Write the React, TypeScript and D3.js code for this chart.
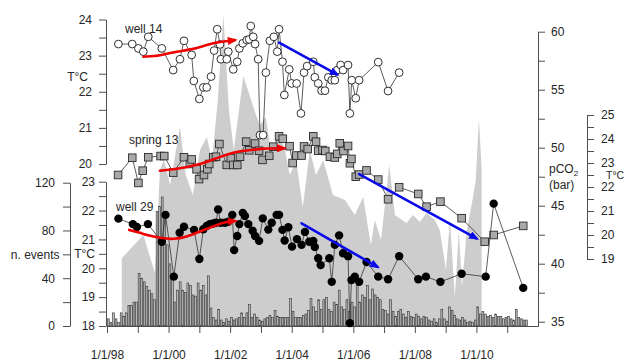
import React, { useRef, useEffect } from "react";
import * as d3 from "d3";

type Pt = [number, number]; // [decimal year, value]

// well 14 temperature (°C), upper left axis
const well14: Pt[] = [
  [1998.37, 23.32], [1998.82, 23.32], [1999.02, 23.2], [1999.18, 23.11], [1999.34, 23.52],
  [1999.78, 23.2], [2000.15, 22.6], [2000.37, 22.9], [2000.5, 23.41], [2000.75, 23.02],
  [2000.82, 22.3], [2001.0, 21.8], [2001.13, 22.12], [2001.24, 22.12], [2001.38, 22.42],
  [2001.48, 23.14], [2001.58, 23.73], [2001.67, 23.31], [2001.7, 22.9], [2001.89, 22.9],
  [2001.94, 23.11], [2002.1, 22.62], [2002.23, 22.83], [2002.3, 23.2], [2002.41, 23.34],
  [2002.54, 23.43], [2002.62, 23.45], [2002.67, 23.82], [2002.75, 23.52], [2002.81, 23.32],
  [2002.91, 22.9], [2002.97, 20.8], [2003.07, 20.8], [2003.16, 22.53], [2003.29, 23.41],
  [2003.42, 23.52], [2003.53, 23.11], [2003.59, 23.73], [2003.7, 22.83], [2003.76, 21.91],
  [2003.92, 22.62], [2004.0, 22.23], [2004.16, 22.23], [2004.3, 21.4], [2004.4, 22.53],
  [2004.5, 22.71], [2004.7, 22.83], [2004.75, 22.4], [2004.86, 22.23], [2004.97, 22.03],
  [2005.08, 22.03], [2005.19, 22.4], [2005.3, 22.32], [2005.4, 22.32], [2005.48, 22.6],
  [2005.59, 22.74], [2005.67, 22.6], [2005.83, 22.74], [2005.89, 21.4], [2005.95, 22.32],
  [2006.08, 21.82], [2006.19, 22.32], [2006.81, 22.82], [2007.13, 22.02], [2007.49, 22.53],
];

// spring 13 temperature (°C), right axis
const spring13: Pt[] = [
  [1998.36, 22.5], [1998.82, 23.22], [1999.02, 22.17], [1999.16, 22.68], [1999.34, 23.24],
  [1999.74, 23.29], [1999.86, 23.29], [2000.15, 22.6], [2000.5, 23.24], [2000.69, 22.96],
  [2000.75, 23.15], [2000.91, 22.74], [2000.99, 22.33], [2001.15, 22.5], [2001.26, 22.74],
  [2001.32, 22.96], [2001.45, 23.24], [2001.54, 23.26], [2001.65, 23.79], [2001.89, 22.92],
  [2002.02, 23.2], [2002.1, 22.92], [2002.23, 22.92], [2002.32, 23.26], [2002.52, 23.89],
  [2002.62, 23.53], [2002.81, 23.81], [2002.94, 23.51], [2003.05, 23.13], [2003.27, 23.3],
  [2003.4, 23.68], [2003.59, 24.11], [2003.71, 24.01], [2003.93, 23.7], [2004.03, 23.0],
  [2004.15, 23.31], [2004.32, 23.31], [2004.4, 23.69], [2004.52, 23.58], [2004.7, 24.11],
  [2004.79, 23.89], [2004.86, 23.51], [2005.0, 23.54], [2005.09, 23.5], [2005.24, 23.26],
  [2005.4, 23.23], [2005.48, 23.38], [2005.56, 23.82], [2005.68, 23.5], [2005.83, 23.71],
  [2005.89, 22.99], [2005.94, 23.17], [2006.08, 22.43], [2006.19, 22.52], [2006.43, 22.69],
  [2006.81, 22.31], [2007.13, 21.49], [2007.49, 21.99], [2008.11, 21.71], [2008.38, 21.18],
  [2008.83, 21.39], [2009.52, 20.7], [2010.27, 19.72], [2010.56, 20.0], [2011.52, 20.38],
];

// well 29 temperature (°C), lower left axis
const well29: Pt[] = [
  [1998.37, 21.72], [1998.84, 21.53], [1998.97, 21.43], [1999.33, 21.53], [1999.78, 20.92],
  [1999.9, 21.85], [2000.17, 19.71], [2000.36, 21.23], [2000.5, 21.44], [2000.83, 21.33],
  [2001.0, 20.32], [2001.13, 21.35], [2001.24, 21.47], [2001.34, 21.53], [2001.45, 21.55],
  [2001.54, 21.58], [2001.61, 22.04], [2001.69, 21.58], [2001.83, 21.58], [2001.94, 21.61],
  [2002.07, 21.85], [2002.13, 20.63], [2002.23, 21.12], [2002.3, 21.53], [2002.41, 21.92],
  [2002.48, 21.81], [2002.59, 21.53], [2002.73, 21.3], [2002.81, 21.12], [2002.94, 20.95],
  [2003.06, 21.73], [2003.24, 21.34], [2003.35, 21.58], [2003.51, 21.85], [2003.59, 21.85],
  [2003.7, 21.33], [2003.77, 20.96], [2003.89, 21.42], [2004.01, 20.75], [2004.17, 21.01],
  [2004.32, 20.81], [2004.43, 21.26], [2004.57, 20.92], [2004.7, 20.95], [2004.75, 20.74],
  [2004.86, 20.35], [2004.94, 20.11], [2005.22, 20.35], [2005.3, 19.53], [2005.4, 20.81],
  [2005.54, 21.14], [2005.67, 20.52], [2005.83, 20.42], [2005.89, 18.1], [2005.94, 19.59],
  [2006.05, 19.71], [2006.19, 19.53], [2006.43, 20.22], [2006.81, 19.71], [2007.13, 19.62],
  [2007.49, 20.42], [2008.11, 19.62], [2008.36, 19.71], [2008.83, 19.53], [2009.52, 19.81],
  [2010.3, 19.71], [2010.56, 22.24], [2011.52, 19.32],
];

// pCO2 (bar), grey area
const pco2: Pt[] = [
  [1998.48, 40.47], [1999.18, 42.47], [1999.56, 39.17], [1999.72, 48.08], [1999.85, 48.94],
  [2000.05, 46.78], [2000.37, 51.78], [2000.56, 47.65], [2000.79, 45.92], [2001.02, 49.8],
  [2001.24, 50.92], [2001.41, 48.94], [2001.6, 54.11], [2001.78, 61.44], [2001.96, 53.25],
  [2002.12, 49.8], [2002.43, 56.18], [2002.84, 52.82], [2002.97, 51.96], [2003.16, 52.65],
  [2003.36, 48.94], [2003.55, 51.53], [2003.78, 49.8], [2003.94, 47.65], [2004.14, 48.94],
  [2004.36, 44.89], [2004.59, 49.8], [2004.79, 47.65], [2005.02, 48.94], [2005.34, 45.92],
  [2005.73, 45.49], [2006.05, 44.2], [2006.32, 45.75], [2006.57, 41.61], [2006.7, 43.77],
  [2006.9, 42.04], [2007.17, 48.51], [2007.35, 44.2], [2007.73, 43.51], [2007.94, 44.2],
  [2008.16, 43.59], [2008.38, 44.37], [2008.65, 43.77], [2008.81, 42.91], [2009.01, 39.46],
  [2009.14, 43.77], [2009.3, 37.13], [2009.43, 42.91], [2009.53, 37.99], [2009.69, 42.91],
  [2009.89, 45.75], [2009.98, 47.22], [2010.08, 52.56], [2010.17, 48.08],
];

// monthly number of events, from January 1998
const nEvents: number[] = [
  6, 3, 11, 6, 3, 11, 8, 11, 17, 17, 20, 20, // 1998
  44, 40, 37, 33, 30, 27, 22, 96, 100, 108, 92, 68, // 1999
  52, 40, 20, 30, 37, 30, 28, 36, 34, 26, 25, 36, // 2000
  30, 34, 26, 42, 15, 7, 5, 14, 5, 3, 6, 4, // 2001
  7, 5, 6, 7, 11, 7, 11, 18, 7, 10, 7, 5, // 2002
  4, 6, 7, 9, 7, 13, 8, 7, 7, 7, 7, 23, // 2003
  12, 7, 7, 7, 9, 10, 13, 23, 16, 12, 22, 14, // 2004
  22, 24, 14, 12, 20, 18, 30, 16, 14, 22, 12, 20, // 2005
  16, 34, 20, 26, 24, 34, 22, 31, 26, 24, 22, 14, // 2006
  13, 10, 22, 12, 8, 12, 14, 10, 7, 12, 8, 7, // 2007
  10, 8, 6, 8, 7, 5, 4, 6, 3, 6, 14, 6, // 2008
  4, 16, 13, 9, 6, 5, 7, 5, 3, 4, 3, 5, // 2009
  16, 10, 12, 10, 8, 9, 7, 10, 8, 8, 6, 7, // 2010
  8, 6, 5, 14, 7, 6, 5, 5, // 2011
];

// trend arrows
const well14Up: Pt[] = [[1999.18, 22.97], [1999.76, 23.0], [2000.14, 23.1], [2000.8, 23.17], [2001.24, 23.3], [2001.67, 23.38], [2002.15, 23.43]];
const well14Down: Pt[] = [[2003.59, 23.36], [2005.47, 22.48]];
const spring13Up: Pt[] = [[1999.72, 22.68], [2000.15, 22.72], [2001.02, 22.92], [2001.67, 23.26], [2002.1, 23.45], [2002.75, 23.56], [2003.19, 23.61], [2003.75, 23.61]];
const spring13Down: Pt[] = [[2006.19, 22.54], [2010.0, 19.86]];
const well29Up: Pt[] = [[1998.72, 21.33], [1999.07, 21.23], [1999.4, 21.12], [1999.78, 21.04], [2000.15, 21.0], [2000.59, 21.09], [2001.02, 21.27], [2001.45, 21.46], [2001.83, 21.61], [2002.16, 21.64]];
const well29Down: Pt[] = [[2004.32, 21.56], [2006.78, 20.05]];

const xTickYears = d3.range(1998, 2012);
const xLabel = (y: number) => (y % 2 === 0 ? `1/1/${String(y).slice(2)}` : "");

const FONT = "'Liberation Sans', Arial, Helvetica, sans-serif";
const RED = "#f00000";
const BLUE = "#0a0ae8";

const App: React.FC = () => {
  const svgRef = useRef<SVGSVGElement | null>(null);

  useEffect(() => {
    if (!svgRef.current) return;
    const width = 627;
    const height = 362;
    const base = 326;

    const svg = d3.select(svgRef.current)
      .attr("width", width)
      .attr("height", height)
      .attr("viewBox", `0 0 ${width} ${height}`)
      .style("position", "absolute")
      .style("left", "0px")
      .style("top", "0px")
      .style("font-family", FONT);

    svg.selectAll("*").remove();

    const x = d3.scaleLinear().domain([1998, 2012]).range([107, 538]);
    const yTop = d3.scaleLinear().domain([20, 24]).range([164, 19.5]);
    const yMid = d3.scaleLinear().domain([18, 23]).range([base, 181.7]);
    const yEv = d3.scaleLinear().domain([0, 120]).range([base, 182.7]);
    const yP = d3.scaleLinear().domain([35, 60]).range([321.7, 31.7]);
    const yPAxis = yP.copy().domain([yP.invert(base), 60]).range([base, 31.7]);
    const yR = d3.scaleLinear().domain([19, 25]).range([259, 115]);

    const defs = svg.append("defs");
    [["red", RED], ["blue", BLUE]].forEach(([id, c]) => {
      defs.append("marker")
        .attr("id", `arrow-${id}`)
        .attr("viewBox", "0 0 10 8")
        .attr("refX", 7)
        .attr("refY", 4)
        .attr("markerWidth", 10)
        .attr("markerHeight", 8)
        .attr("markerUnits", "userSpaceOnUse")
        .attr("orient", "auto")
        .append("path")
        .attr("d", "M0,0L10,4L0,8Z")
        .attr("fill", c);
    });

    // grey pCO2 area
    svg.append("path")
      .datum(pco2)
      .attr("fill", "#cdcdcd")
      .attr("d", d3.area<Pt>()
        .x(d => x(d[0]))
        .y0(base)
        .y1(d => yP(d[1])));

    // monthly events histogram
    const step = x(1998 + 1 / 12) - x(1998);
    svg.append("g")
      .selectAll("rect")
      .data(nEvents)
      .join("rect")
      .attr("x", (_, i) => x(1998 + i / 12) + 0.4)
      .attr("y", d => yEv(d))
      .attr("width", step * 0.72)
      .attr("height", d => base - yEv(d))
      .attr("fill", "#b9b9b9")
      .attr("stroke", "#333")
      .attr("stroke-width", 0.6);

    const styleAxis = (g: d3.Selection<SVGGElement, unknown, null, undefined>) => {
      g.attr("font-size", 12).attr("font-family", FONT);
      g.selectAll("text").attr("fill", "#262626");
      g.selectAll("line,path").attr("stroke", "#4d4d4d");
    };
    const intFmt = (d: d3.NumberValue) => (Number.isInteger(+d) ? String(d) : "");

    svg.append("g")
      .attr("transform", "translate(106,0)")
      .call(d3.axisLeft(yTop).tickValues(d3.range(20, 24.01, 0.5)).tickFormat(intFmt).tickSize(7).tickPadding(7).tickSizeOuter(0))
      .call(styleAxis);

    svg.append("g")
      .attr("transform", "translate(106,0)")
      .call(d3.axisLeft(yMid).tickValues(d3.range(18, 23.01, 0.5)).tickFormat(intFmt).tickSize(7).tickPadding(4).tickSizeOuter(0))
      .call(styleAxis);

    svg.append("g")
      .attr("transform", "translate(70,0)")
      .call(d3.axisLeft(yEv).tickValues(d3.range(0, 121, 20)).tickFormat(d => (+d % 40 === 0 ? String(d) : "")).tickSize(7).tickPadding(8).tickSizeOuter(0))
      .call(styleAxis);

    svg.append("g")
      .attr("transform", `translate(0,${base})`)
      .call(d3.axisBottom(x).tickValues(xTickYears).tickFormat(d => xLabel(+d)).tickSize(7).tickPadding(17).tickSizeOuter(0))
      .call(styleAxis);

    svg.append("g")
      .attr("transform", "translate(538,0)")
      .call(d3.axisRight(yPAxis).tickValues(d3.range(35, 60.01, 2.5)).tickFormat(d => (+d % 5 === 0 ? String(d) : "")).tickSize(7).tickPadding(6).tickSizeOuter(0))
      .call(styleAxis);

    svg.append("g")
      .attr("transform", "translate(587,0)")
      .call(d3.axisRight(yR).tickValues(d3.range(19, 25.01, 0.5)).tickFormat(intFmt).tickSize(7).tickPadding(7).tickSizeOuter(0))
      .call(styleAxis);

    // axis titles
    const label = (tx: number, ty: number, s: string, anchor = "start", size = 12) =>
      svg.append("text")
        .attr("x", tx).attr("y", ty)
        .attr("text-anchor", anchor)
        .attr("font-size", size)
        .attr("fill", "#262626")
        .text(s);

    label(88, 81, "T°C", "end");
    label(95, 257.5, "T°C", "end");
    label(59.5, 258.5, "n. events", "end");
    label(606, 178.5, "T°C", "start", 10.5);
    const pco = svg.append("text").attr("x", 549).attr("y", 173).attr("font-size", 12).attr("fill", "#262626");
    pco.append("tspan").text("pCO");
    pco.append("tspan").attr("font-size", 8).attr("dy", 3).text("2");
    label(549, 188.5, "(bar)");

    // series
    const connect = (pts: Pt[], yScale: d3.ScaleLinear<number, number>) =>
      svg.append("path")
        .datum(pts)
        .attr("fill", "none")
        .attr("stroke", "#333")
        .attr("stroke-width", 0.8)
        .attr("d", d3.line<Pt>().x(d => x(d[0])).y(d => yScale(d[1])));

    connect(well14, yTop);
    svg.append("g")
      .selectAll("circle")
      .data(well14)
      .join("circle")
      .attr("cx", d => x(d[0]))
      .attr("cy", d => yTop(d[1]))
      .attr("r", 3.9)
      .attr("fill", "#fff")
      .attr("stroke", "#1a1a1a")
      .attr("stroke-width", 0.9);

    connect(spring13, yR);
    svg.append("g")
      .selectAll("rect")
      .data(spring13)
      .join("rect")
      .attr("x", d => x(d[0]) - 3.8)
      .attr("y", d => yR(d[1]) - 3.8)
      .attr("width", 7.6)
      .attr("height", 7.6)
      .attr("fill", "#a9a9a9")
      .attr("stroke", "#2a2a2a")
      .attr("stroke-width", 0.9);

    connect(well29, yMid);
    svg.append("g")
      .selectAll("circle")
      .data(well29)
      .join("circle")
      .attr("cx", d => x(d[0]))
      .attr("cy", d => yMid(d[1]))
      .attr("r", 4.2)
      .attr("fill", "#000");

    // trend arrows
    const trend = (pts: Pt[], yScale: d3.ScaleLinear<number, number>, color: string, id: string, curved: boolean) =>
      svg.append("path")
        .attr("fill", "none")
        .attr("stroke", color)
        .attr("stroke-width", 2.6)
        .attr("stroke-linecap", "round")
        .attr("marker-end", `url(#arrow-${id})`)
        .attr("d", d3.line<Pt>().curve(curved ? d3.curveBasis : d3.curveLinear).x(d => x(d[0])).y(d => yScale(d[1]))(pts));

    trend(well14Up, yTop, RED, "red", true);
    trend(spring13Up, yR, RED, "red", true);
    trend(well29Up, yMid, RED, "red", true);
    trend(well14Down, yTop, BLUE, "blue", false);
    trend(spring13Down, yR, BLUE, "blue", false);
    trend(well29Down, yMid, BLUE, "blue", false);

    // series names
    label(125, 32.5, "well 14");
    label(129, 143.5, "spring 13");
    label(116, 211, "well 29");
  }, []);

  return <svg ref={svgRef} />;
};

export default App;
